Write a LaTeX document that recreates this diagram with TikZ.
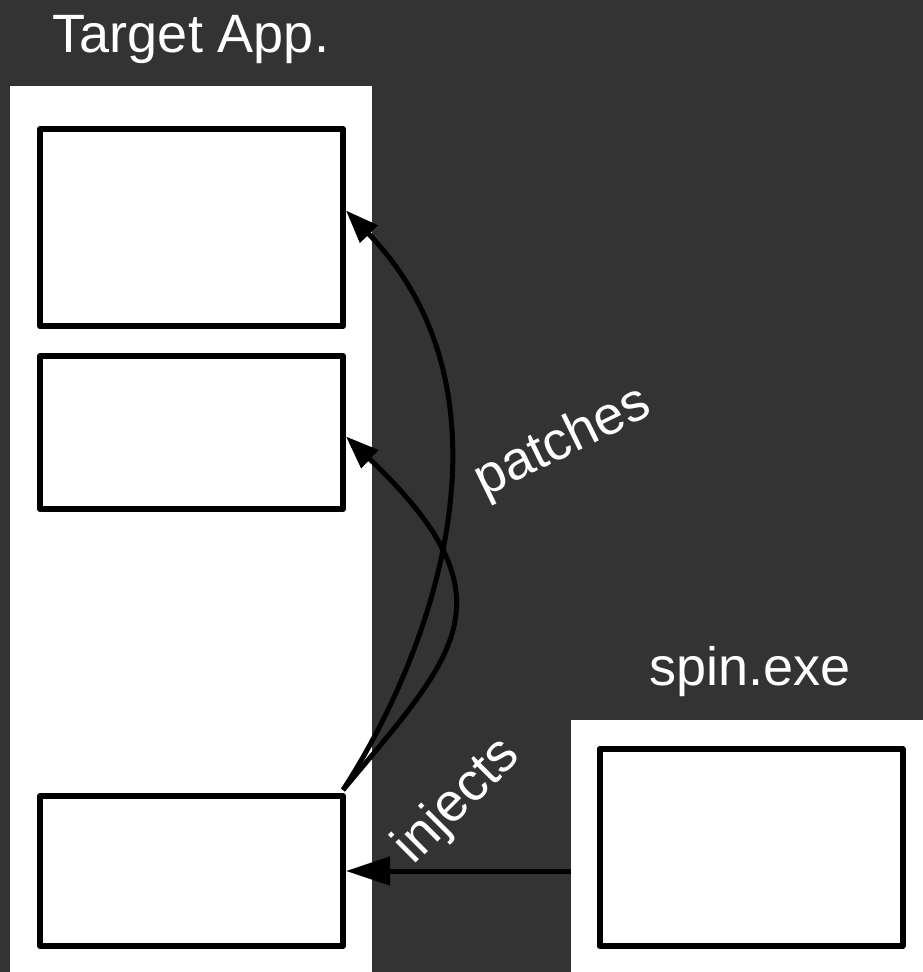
\documentclass[tikz,border=0pt]{standalone}
\usepackage{fontspec}
\setmainfont{Liberation Sans}
\usetikzlibrary{arrows.meta}
\definecolor{bgdark}{HTML}{333333}
\begin{document}
\begin{tikzpicture}[x=1pt,y=-1pt,
  panel/.style={fill=white,draw=none,inner sep=0pt,outer sep=0pt},
  compbox/.style={draw=black,fill=white,line width=6pt,line join=round,inner sep=0pt,minimum width=303pt},
  lbl/.style={text=white,font=\fontsize{54}{60}\selectfont,inner sep=0pt},
  conn/.style={line width=5pt,draw=black,-{Triangle[length=33pt,width=24pt]}},
  connbig/.style={line width=5pt,draw=black,-{Triangle[length=44pt,width=28pt]}}]
\fill[bgdark] (0,0) rectangle (923,972);
\useasboundingbox (0,0) rectangle (923,972);
% panels
\node[panel,minimum width=362pt,minimum height=886pt,anchor=north west] (app) at (10,86) {};
\node[panel,minimum width=352pt,minimum height=252pt,anchor=north west] (spin) at (571,720) {};
% boxes
\node[compbox,minimum height=197pt] (b1) at (191.5,227.5) {};
\node[compbox,minimum height=153pt] (b2) at (191.5,432.5) {};
\node[compbox,minimum height=150pt] (b3) at (191.5,871) {};
\node[compbox,minimum height=197pt] (s1) at (751,847.5) {};
% titles
\node[lbl,anchor=base] (tapp) at (191,52) {Target App.};
\node[lbl,anchor=base] (tspin) at (750,685) {spin.exe};
% target points
\coordinate (t1) at ([yshift=17pt]b1.east);
\coordinate (t2) at ([yshift=-4pt]b2.east);
\coordinate (o3) at ([xshift=-3pt,yshift=3pt]b3.north east);
% connectors
\draw[conn] (o3) .. controls (440,640) and (520,390) .. (t1);
\draw[conn] (o3) .. controls (455,655) and (518,600) .. (t2);
\draw[connbig] (spin.west |- b3.east) -- (b3.east);
% labels
\node[lbl,rotate=26] (lpatch) at (563,443) {patches};
\node[lbl,rotate=45] (linj) at (458,802) {injects};
\end{tikzpicture}
\end{document}
